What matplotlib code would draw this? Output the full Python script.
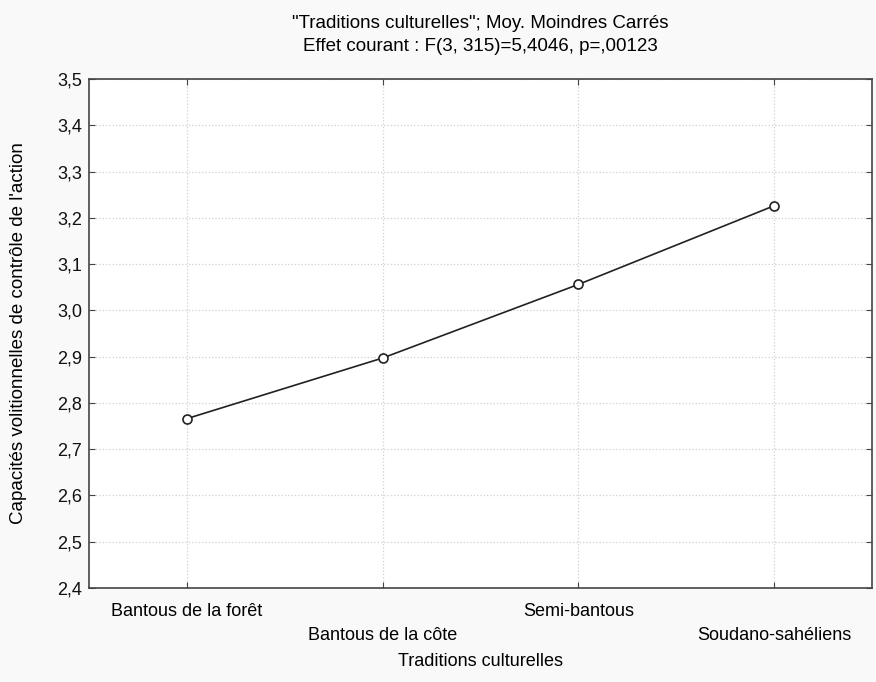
import matplotlib as mpl
mpl.use("Agg")
import matplotlib.pyplot as plt

categories = ["Bantous de la forêt", "Bantous de la côte", "Semi-bantous", "Soudano-sahéliens"]
means = [2.766, 2.897, 3.056, 3.226]
yticks = [2.4, 2.5, 2.6, 2.7, 2.8, 2.9, 3.0, 3.1, 3.2, 3.3, 3.4, 3.5]

plt.rcParams['font.family'] = ['Liberation Sans', 'DejaVu Sans']

fig = plt.figure(figsize=(8.76, 6.82), dpi=100, facecolor='#f9f9f9')
ax = fig.add_axes([0.1016, 0.1378, 0.8938, 0.7464])
ax.set_facecolor('white')

x = list(range(len(categories)))
ax.plot(x, means, color='#222222', lw=1.2, marker='o', markersize=6.5,
        markerfacecolor='white', markeredgecolor='#222222', markeredgewidth=1.2, zorder=3)

ax.set_xlim(-0.5, 3.5)
ax.set_ylim(2.4, 3.5)
ax.set_yticks(yticks)
ax.set_yticklabels([f"{v:.1f}".replace('.', ',') for v in yticks], fontsize=13)
ax.set_xticks(x)
ax.set_xticklabels([])

# staggered category labels
for i, lab in enumerate(categories):
    off = -0.047 if i % 2 == 0 else -0.094
    ax.text(i, off, lab, transform=ax.get_xaxis_transform(), ha='center', va='center',
            fontsize=13, clip_on=False)

ax.grid(True, color='#d0d0d0', linestyle=':', linewidth=0.9)
ax.tick_params(direction='in', length=4, top=True, right=True, colors='#444444',
               labelcolor='#111111', pad=5)
for s in ax.spines.values():
    s.set_color('#444444')
    s.set_linewidth(1.2)

ax.set_xlabel("Traditions culturelles", fontsize=13)
ax.xaxis.set_label_coords(0.5, -0.127)
ax.set_ylabel("Capacités volitionnelles de contrôle de l'action", fontsize=13.5)
ax.yaxis.set_label_coords(-0.079, 0.5)
ax.set_title("\"Traditions culturelles\"; Moy. Moindres Carrés\nEffet courant : F(3, 315)=5,4046, p=,00123",
             fontsize=13.5, linespacing=1.5, pad=20)

plt.savefig('out.png', dpi=100, facecolor=fig.get_facecolor())
